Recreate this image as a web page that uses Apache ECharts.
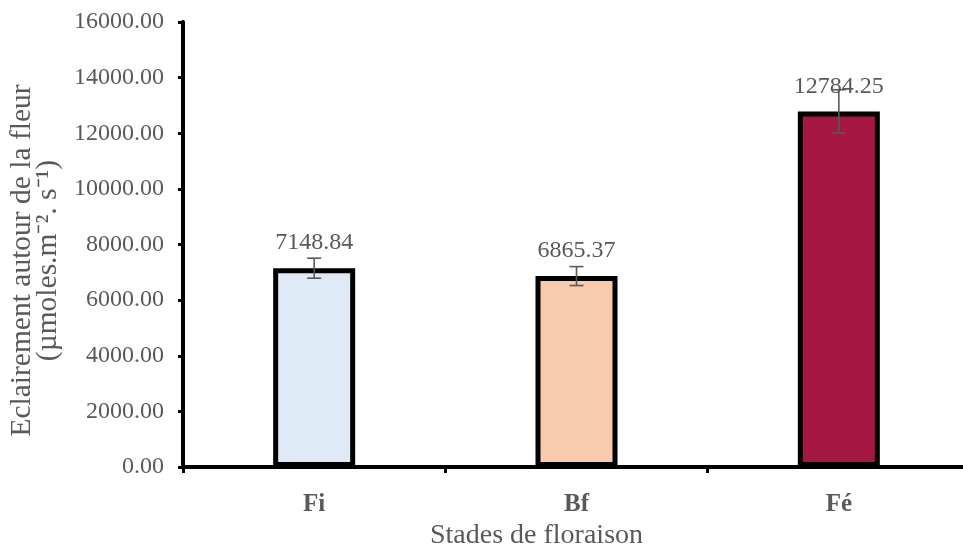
<!DOCTYPE html>
<html>
<head>
<meta charset="utf-8">
<script src="https://cdn.jsdelivr.net/npm/echarts@6/dist/echarts.min.js"></script>
<style>
  html, body { margin: 0; padding: 0; background: #fff; }
  #chart { width: 963px; height: 545px; }
</style>
</head>
<body>
<div id="chart"></div>
<script>
// stades de floraison
const categories = ["Fi", "Bf", "Fé"];
const values = [7148.84, 6865.37, 12784.25];
const errors = [360, 340, 780];
const barColors = ["#DEEAF6", "#F8CBAD", "#A51844"];
const yTicks = { min: 0, max: 16000, interval: 2000 };

const serif = "'Liberation Serif', 'Times New Roman', serif";
const gray = "#595959";

let chart = echarts.init(document.getElementById("chart"));
chart.setOption({
  animation: false,
  grid: { left: 183, right: -7, top: 22, bottom: 78, outerBoundsMode: "none", containLabel: false },
  xAxis: {
    type: "category",
    data: categories,
    name: "Stades de floraison",
    nameLocation: "middle",
    nameGap: 54,
    // titre décalé vers la gauche comme dans l'original
    nameTextStyle: { color: gray, fontFamily: serif, fontSize: 28, padding: [0, 80, 0, 0] },
    axisLine: { lineStyle: { color: "#000", width: 4 } },
    axisTick: { show: true, length: 6, lineStyle: { color: "#000", width: 3 } },
    axisLabel: { color: gray, fontFamily: serif, fontSize: 25, fontWeight: "bold", margin: 25 },
  },
  yAxis: {
    type: "value",
    min: yTicks.min,
    max: yTicks.max,
    interval: yTicks.interval,
    name: "Eclairement autour de la fleur\n(µmoles.m⁻². s⁻¹)",
    nameLocation: "middle",
    nameGap: 120,
    nameTextStyle: { color: gray, fontFamily: serif, fontSize: 29.5, lineHeight: 26, padding: [0, 32, 0, 0] },
    axisLine: { show: true, lineStyle: { color: "#000", width: 4 } },
    axisTick: { show: true, length: 5, lineStyle: { color: "#000", width: 3 } },
    axisLabel: {
      color: gray, fontFamily: serif, fontSize: 24, margin: 19,
      formatter: (v) => v.toFixed(2),
    },
    splitLine: { show: false },
  },
  series: [
    {
      type: "bar",
      barWidth: 82,
      data: values.map((v, i) => ({
        value: v,
        itemStyle: { color: barColors[i] },
      })),
      itemStyle: { borderColor: "#000", borderWidth: 5 },
      label: {
        show: true,
        position: "top",
        distance: 13,
        color: gray,
        fontFamily: serif,
        fontSize: 24,
        formatter: (p) => p.value.toFixed(2),
      },
      z: 2,
    },
    {
      type: "custom",
      data: values.map((v, i) => [i, v - errors[i], v + errors[i]]),
      renderItem: function (params, api) {
        let lo = api.coord([api.value(0), api.value(1)]);
        let hi = api.coord([api.value(0), api.value(2)]);
        let w = 7;
        let style = { stroke: gray, lineWidth: 1.6 };
        return {
          type: "group",
          children: [
            { type: "line", shape: { x1: lo[0], y1: lo[1], x2: hi[0], y2: hi[1] }, style: style },
            { type: "line", shape: { x1: lo[0] - w, y1: lo[1], x2: lo[0] + w, y2: lo[1] }, style: style },
            { type: "line", shape: { x1: hi[0] - w, y1: hi[1], x2: hi[0] + w, y2: hi[1] }, style: style },
          ],
        };
      },
      z: 3,
    },
  ],
});
</script>
</body>
</html>
